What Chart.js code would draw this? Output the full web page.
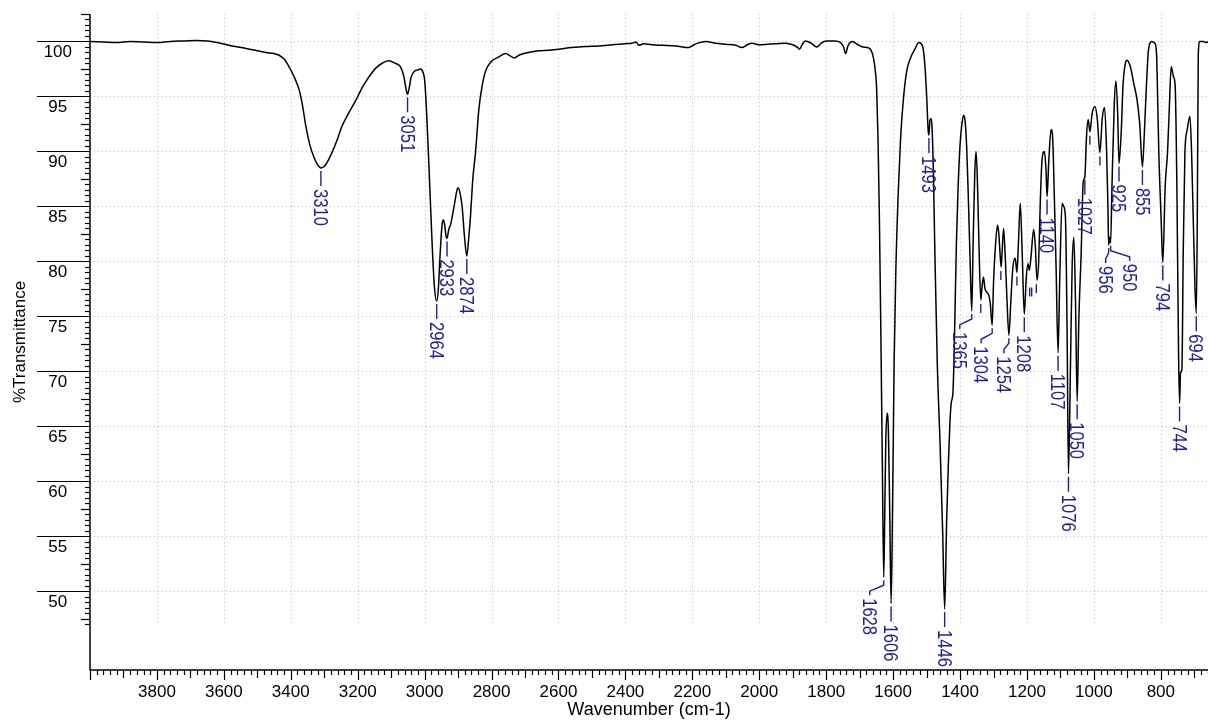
<!DOCTYPE html>
<html>
<head>
<meta charset="utf-8">
<script src="https://cdn.jsdelivr.net/npm/chart.js"></script>
<style>
  html, body { margin: 0; padding: 0; background: #fff; }
  #wrap { width: 1208px; height: 721px; position: relative; }
</style>
</head>
<body>
<div id="wrap"><canvas id="ir"></canvas></div>
<script>
// spectrum (cm-1, %T)
const wavenumbers = [
  4000, 3960, 3920, 3880, 3840, 3800, 3760, 3720, 3680, 3650, 3620, 3576, 3530, 3500, 3474, 3450, 3435, 3420,
  3405, 3390, 3375, 3365, 3355, 3343, 3331, 3320, 3310, 3298, 3288, 3277, 3262, 3247, 3225, 3205, 3185, 3166,
  3145, 3128, 3108, 3087, 3072, 3062, 3055, 3051, 3046, 3040, 3030, 3022, 3012, 3005, 3000, 2994, 2987, 2979,
  2971, 2964, 2959, 2954, 2948, 2944, 2940, 2936, 2933, 2928, 2922, 2912, 2904, 2900, 2894, 2888, 2881, 2874,
  2868, 2863, 2856, 2848, 2838, 2828, 2818, 2800, 2778, 2758, 2744, 2733, 2715, 2690, 2660, 2630, 2600, 2560,
  2520, 2480, 2440, 2400, 2380, 2368, 2360, 2345, 2321, 2290, 2250, 2211, 2195, 2184, 2160, 2130, 2100, 2070,
  2052, 2036, 2022, 2000, 1975, 1950, 1921, 1900, 1885, 1880, 1870, 1862, 1845, 1828, 1815, 1800, 1775, 1757,
  1748, 1742, 1735, 1722, 1705, 1690, 1672, 1662, 1655, 1649, 1645, 1641, 1637, 1632, 1628, 1625, 1622, 1618,
  1614, 1610, 1606, 1602, 1597, 1592, 1585, 1578, 1570, 1560, 1548, 1535, 1523, 1516, 1510, 1505, 1500, 1495,
  1493, 1490, 1487, 1484, 1480, 1475, 1468, 1460, 1452, 1446, 1440, 1435, 1430, 1426, 1421, 1416, 1411, 1406,
  1400, 1394, 1389, 1385, 1380, 1375, 1370, 1365, 1361, 1356, 1352, 1348, 1343, 1338, 1334, 1330, 1326, 1320,
  1315, 1310, 1304, 1300, 1294, 1288, 1284, 1280, 1277, 1274, 1270, 1265, 1260, 1254, 1248, 1242, 1235, 1230,
  1226, 1220, 1214, 1208, 1202, 1197, 1193, 1188, 1180, 1175, 1170, 1165, 1160, 1155, 1148, 1143, 1140, 1135,
  1128, 1123, 1118, 1113, 1107, 1102, 1095, 1090, 1085, 1080, 1076, 1070, 1065, 1060, 1055, 1050, 1045, 1038,
  1032, 1027, 1022, 1017, 1012, 1005, 997, 990, 982, 975, 968, 962, 958, 956, 953, 950, 946, 939,
  934, 929, 925, 918, 913, 906, 901, 891, 881, 871, 863, 855, 849, 843, 837, 827, 817, 812,
  806, 799, 794, 787, 780, 774, 769, 762, 757, 752, 747, 744, 741, 737, 733, 728, 721, 713,
  708, 703, 698, 694, 691, 688, 683, 673, 663, 659
];
const transmittance = [
  100.0, 99.95, 99.9, 100.0, 99.95, 99.9, 100.0, 100.05, 100.1, 100.05, 99.9, 99.6, 99.35, 99.15, 99.0, 98.9, 98.75, 98.4,
  97.7, 96.8, 95.6, 94.2, 92.3, 90.6, 89.5, 88.8, 88.5, 88.7, 89.2, 89.9, 91.0, 92.3, 93.6, 94.7, 95.9, 96.8,
  97.6, 98.0, 98.25, 98.0, 97.7, 96.8, 95.6, 95.2, 95.8, 96.8, 97.3, 97.4, 97.5, 97.2, 96.5, 93.5, 88.6, 82.6,
  77.8, 76.4, 77.5, 80.5, 83.3, 83.8, 83.3, 82.3, 82.1, 82.9, 83.4, 85.0, 86.4, 86.7, 86.2, 85.0, 82.3, 80.5,
  82.2, 84.1, 87.5, 89.9, 93.8, 96.0, 97.3, 98.2, 98.6, 98.9, 98.7, 98.5, 98.8, 99.0, 99.15, 99.2, 99.3, 99.45,
  99.55, 99.6, 99.7, 99.8, 99.85, 99.95, 99.65, 99.8, 99.7, 99.65, 99.6, 99.45, 99.7, 99.85, 100.0, 99.85, 99.75, 99.65,
  99.45, 99.7, 99.85, 99.7, 99.75, 99.8, 99.85, 99.7, 99.45, 99.3, 99.8, 100.05, 99.85, 99.5, 99.85, 100.05, 100.05, 99.9,
  99.5, 98.9, 99.6, 100.0, 99.7, 99.5, 99.4, 98.9, 97.8, 95.5, 91.0, 84.0, 74.5, 61.0, 51.3, 57.0, 63.5, 66.2,
  64.5, 57.0, 48.9, 56.7, 70.7, 79.0, 86.0, 91.0, 94.5, 97.2, 98.5, 99.3, 99.9, 99.8, 99.3, 97.8, 95.2, 91.8,
  91.5, 92.8, 93.0, 92.4, 88.6, 80.5, 70.7, 63.7, 55.5, 48.4, 56.5, 61.5, 65.5, 67.2, 68.2, 74.0, 81.5, 86.5,
  90.6, 92.6, 93.3, 92.8, 90.3, 85.6, 80.2, 75.5, 81.5, 88.0, 90.0, 87.2, 81.0, 76.5, 77.8, 78.6, 77.6, 77.2,
  77.0, 76.3, 74.2, 78.0, 81.5, 83.3, 82.5, 80.5, 79.5, 81.0, 83.0, 80.5, 76.7, 73.3, 76.5, 79.5, 80.3, 79.0,
  81.3, 85.3, 80.5, 75.2, 78.6, 79.8, 79.2, 80.4, 82.9, 81.4, 78.3, 80.0, 85.6, 89.2, 90.0, 88.3, 85.9, 89.0,
  92.0, 91.1, 85.6, 79.5, 71.7, 78.5, 85.3, 85.0, 84.0, 73.5, 60.7, 70.5, 79.5, 82.2, 76.5, 67.3, 74.7, 80.8,
  87.2, 87.7, 91.4, 92.9, 91.8, 93.5, 94.1, 93.0, 89.9, 93.0, 94.0, 90.0, 85.0, 81.5, 82.2, 81.7, 86.8, 94.4,
  96.4, 93.5, 88.9, 92.0, 96.0, 98.0, 98.3, 97.7, 96.2, 94.7, 92.5, 88.6, 91.8, 96.0, 99.2, 100.0, 99.8, 98.3,
  89.9, 83.8, 79.9, 86.8, 89.9, 94.4, 97.7, 96.8, 95.9, 86.8, 71.7, 67.1, 69.9, 70.2, 80.8, 89.9, 92.0, 93.2,
  89.9, 83.8, 77.7, 75.3, 83.8, 98.9, 100.0, 100.0, 99.9, 100.0
];

// labelled peaks
const peakWavenumbers = [3310, 3051, 2964, 2933, 2874, 1628, 1606, 1493, 1446, 1365, 1304, 1254, 1208,
  1140, 1107, 1076, 1050, 1027, 956, 950, 925, 855, 794, 744, 694];
const peakTransmittance = [88.5, 95.2, 76.4, 82.1, 80.5, 51.3, 48.9, 91.5, 48.4, 75.5, 74.2, 73.3, 75.2,
  85.9, 71.7, 60.7, 67.3, 87.7, 81.5, 81.7, 88.9, 88.6, 79.9, 67.1, 75.3];

// unlabelled peak marks
const markWavenumbers = [1338, 1278, 1230, 1192, 1186, 1172, 1012, 982];
const markTransmittance = [76.5, 79.5, 79.0, 78.0, 78.0, 78.3, 91.8, 89.9];

const xTicks = [800, 1000, 1200, 1400, 1600, 1800, 2000, 2200, 2400, 2600, 2800, 3000, 3200, 3400, 3600, 3800];
const yTicks = [50, 55, 60, 65, 70, 75, 80, 85, 90, 95, 100];

const FONT = "'Liberation Sans', Arial, sans-serif";
const LABEL_BLUE = '#1e1e96';
// leader hooks where the label is pushed sideways
const labelShift = { 1628: -14, 1365: -12, 1304: -11, 1254: -5, 956: -3, 950: 19 };

Chart.defaults.font.family = FONT;

const irAxes = {
  id: 'irAxes',
  beforeDatasetsDraw(chart) {
    const { ctx, scales: { x, y } } = chart;
    ctx.save();
    ctx.strokeStyle = '#bdbdbd';
    ctx.lineWidth = 1;
    ctx.setLineDash([1, 3]);
    const top = y.getPixelForValue(y.max);
    const bot = y.getPixelForValue(47);
    xTicks.forEach(v => {
      const px = Math.round(x.getPixelForValue(v)) + 0.5;
      ctx.beginPath(); ctx.moveTo(px, top); ctx.lineTo(px, bot); ctx.stroke();
    });
    yTicks.forEach(v => {
      const py = Math.round(y.getPixelForValue(v)) + 0.5;
      ctx.beginPath(); ctx.moveTo(x.left, py); ctx.lineTo(x.right, py); ctx.stroke();
    });
    ctx.restore();
  },
  afterDraw(chart) {
    const { ctx, scales: { x, y } } = chart;
    const left = x.left, bottom = y.bottom;
    ctx.save();
    ctx.strokeStyle = '#000';
    ctx.lineWidth = 1.5;
    // axis lines
    ctx.beginPath();
    ctx.moveTo(left, y.top); ctx.lineTo(left, bottom); ctx.lineTo(x.right, bottom);
    ctx.stroke();

    ctx.lineWidth = 1.2;
    // y ticks every 0.5
    for (let v = 47; v <= 102.5; v += 0.5) {
      const py = Math.round(y.getPixelForValue(v)) + 0.5;
      let len = 5;
      if (v % 5 === 0 && v >= 50 && v <= 100) len = left - 37;
      else if (v % 2.5 === 0) len = 9;
      ctx.beginPath(); ctx.moveTo(left - len, py); ctx.lineTo(left, py); ctx.stroke();
    }
    // x ticks every 20
    for (let v = 660; v <= 4000; v += 20) {
      const px = Math.round(x.getPixelForValue(v)) + 0.5;
      let len = 5;
      if (v % 200 === 0) len = 10;
      else if (v % 100 === 0) len = 8;
      ctx.beginPath(); ctx.moveTo(px, bottom); ctx.lineTo(px, bottom + len); ctx.stroke();
    }

    // peak labels
    ctx.strokeStyle = LABEL_BLUE;
    ctx.fillStyle = LABEL_BLUE;
    ctx.lineWidth = 1.4;
    ctx.font = '21px ' + FONT;
    peakWavenumbers.forEach((wn, i) => {
      const px = x.getPixelForValue(wn);
      const py = y.getPixelForValue(peakTransmittance[i]);
      const lx = px + (labelShift[wn] || 0);
      ctx.beginPath();
      ctx.moveTo(px, py + 3);
      if (lx !== px) {
        ctx.lineTo(px, py + 8);
        ctx.lineTo(lx, py + 14);
        ctx.lineTo(lx, py + 18);
      } else {
        ctx.lineTo(px, py + 18);
      }
      ctx.stroke();
      ctx.save();
      ctx.translate(lx, py + 21);
      ctx.rotate(Math.PI / 2);
      ctx.scale(0.79, 1);
      ctx.textAlign = 'left';
      ctx.textBaseline = 'middle';
      ctx.fillText(String(wn), 0, 1);
      ctx.restore();
    });
    markWavenumbers.forEach((wn, i) => {
      const px = x.getPixelForValue(wn);
      const py = y.getPixelForValue(markTransmittance[i]);
      ctx.beginPath(); ctx.moveTo(px, py + 4); ctx.lineTo(px, py + 13); ctx.stroke();
    });
    ctx.restore();
  }
};

new Chart(document.getElementById('ir'), {
  type: 'line',
  data: {
    datasets: [{
      data: wavenumbers.map((w, i) => ({ x: w, y: transmittance[i] })),
      borderColor: '#000',
      borderWidth: 1.5,
      pointRadius: 0,
      cubicInterpolationMode: 'monotone',
      fill: false
    }]
  },
  options: {
    responsive: true,
    maintainAspectRatio: false,
    animation: false,
    layout: { padding: { top: 14, right: 0, left: 0, bottom: 0 } },
    plugins: { legend: { display: false }, tooltip: { enabled: false } },
    scales: {
      x: {
        type: 'linear',
        reverse: true,
        min: 659,
        max: 4000,
        afterBuildTicks: s => { s.ticks = xTicks.map(v => ({ value: v })); },
        afterFit: s => { s.height = 51; s.paddingLeft = 0; s.paddingRight = 0; },
        grid: { display: false, drawTicks: false },
        border: { display: false },
        ticks: { padding: 12, color: '#000', font: { size: 17 }, maxRotation: 0, autoSkip: false, callback: v => String(v) },
        title: { display: true, text: 'Wavenumber (cm-1)', color: '#000', font: { size: 18 }, padding: { top: 0, bottom: 0 } }
      },
      y: {
        min: 42.86,
        max: 102.5,
        afterBuildTicks: s => { s.ticks = yTicks.map(v => ({ value: v })); },
        afterFit: s => { s.width = 90; s.paddingTop = 0; s.paddingBottom = 0; },
        grid: { display: false, drawTicks: false },
        border: { display: false },
        ticks: { padding: 18, crossAlign: 'center', labelOffset: 11, color: '#000', font: { size: 17 }, callback: v => String(v) },
        title: { display: true, text: '%Transmittance', color: '#000', font: { size: 17 }, padding: { top: 10, bottom: 0 } }
      }
    }
  },
  plugins: [irAxes]
});
</script>
</body>
</html>
